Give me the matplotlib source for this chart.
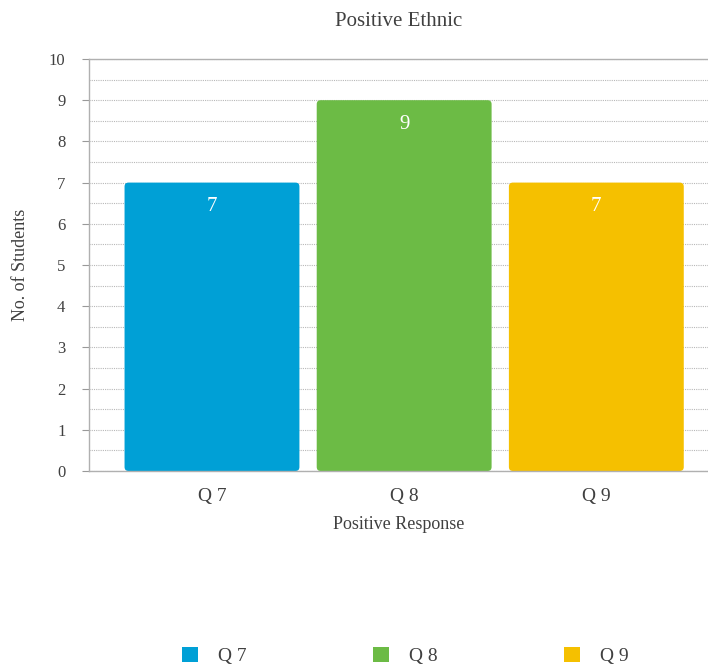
import matplotlib.pyplot as plt
from matplotlib.patches import FancyBboxPatch, Patch

# Positive responses per question
questions = ['Q 7', 'Q 8', 'Q 9']
students = [7, 9, 7]
colors = ['#00A0D6', '#6CBB45', '#F5C000']

plt.rcParams['font.family'] = ['Liberation Serif', 'DejaVu Serif']
text_color = '#404040'
grid_color = '#B8B8B8'

fig = plt.figure(figsize=(7.08, 6.68), dpi=100)
ax = fig.add_axes([0.1257, 0.2949, 0.874, 0.6168])

xs = list(range(len(questions)))
bars = ax.bar(xs, students, width=0.91, color=colors)

ax.set_xlim(-0.64, 2.58)
ax.set_ylim(0, 10)

# swap plain rectangles for ones with slightly rounded corners
px_x = ax.bbox.width / (2.58 + 0.64)
px_y = ax.bbox.height / 10
r = 4 / px_x
for bar, c in zip(bars, colors):
    x, y = bar.get_x(), bar.get_y()
    w, h = bar.get_width(), bar.get_height()
    bar.set_visible(False)
    rounded = FancyBboxPatch((x, y), w, h,
                             boxstyle=f'round,pad=0,rounding_size={r}',
                             mutation_aspect=px_x / px_y,
                             facecolor=c, edgecolor='none', zorder=2)
    ax.add_patch(rounded)

for x, v in zip(xs, students):
    ax.text(x, v - 0.58, str(v), ha='center', va='center',
            color='white', fontsize=15, zorder=3)

ax.set_yticks(range(0, 11))
ax.set_yticks([i + 0.5 for i in range(10)], minor=True)
ax.grid(axis='y', which='both', color=grid_color, linestyle=(0, (1, 1)),
        linewidth=0.8, zorder=0)
ax.set_axisbelow(True)

ax.set_xticks(xs)
ax.set_xticklabels(questions, fontsize=14, color=text_color)
ax.tick_params(axis='x', length=0, pad=12)
ax.tick_params(axis='y', which='major', length=5, color='#999999',
               labelsize=12, labelcolor=text_color, pad=12)
ax.tick_params(axis='y', which='minor', length=0)

for side in ['left', 'bottom', 'top']:
    ax.spines[side].set_color('#B0B0B0')
    ax.spines[side].set_linewidth(1)
ax.spines['right'].set_visible(False)

ax.set_title('Positive Ethnic', fontsize=15, color=text_color, pad=24)
ax.set_xlabel('Positive Response', fontsize=13, color=text_color, labelpad=8)
ax.set_ylabel('No. of Students', fontsize=13, color=text_color, labelpad=14)

handles = [Patch(facecolor=c, edgecolor='none') for c in colors]
fig.legend(handles, questions, loc='lower center', bbox_to_anchor=(0.572, -0.022),
           ncol=3, frameon=False, fontsize=14, labelcolor=text_color,
           handlelength=0.85, handleheight=0.85, handletextpad=1.0,
           columnspacing=6.5)

fig.savefig('out.png', dpi=100)
